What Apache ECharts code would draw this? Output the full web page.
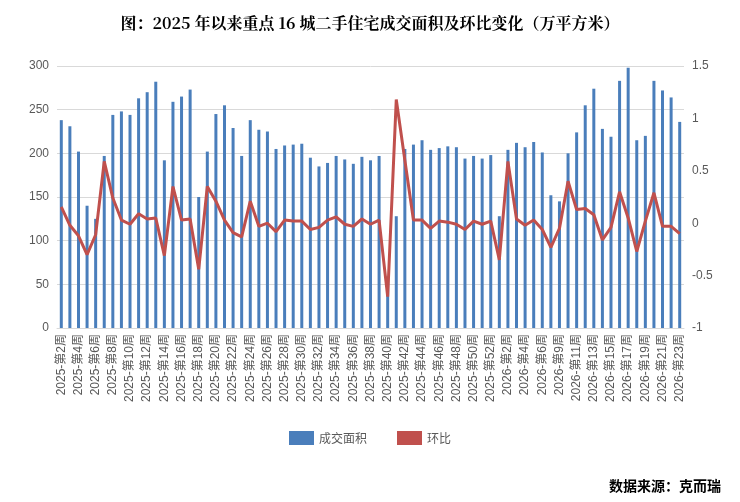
<!DOCTYPE html>
<html><head><meta charset="utf-8">
<script src="https://cdn.jsdelivr.net/npm/echarts@6/dist/echarts.min.js"></script>
<style>html,body{margin:0;padding:0;background:#fff}#c{width:740px;height:502px}</style>
</head><body><div id="c"></div>
<script>
const weeks2025 = [2,3,4,5,6,7,8,9,10,11,12,13,14,15,16,17,18,19,20,21,22,23,24,25,26,27,28,29,30,31,32,33,34,35,36,37,38,39,40,41,42,43,44,45,46,47,48,49,50,51,52];
const weeks2026 = [1,2,3,4,5,6,8,9,10,11,12,13,14,15,16,17,18,19,20,21,22,23];
const categories = weeks2025.map(w => '2025-第' + w + '周').concat(weeks2026.map(w => '2026-第' + w + '周'));
const area = [238,231,202,140,125,197,244,248,244,263,270,282,192,259,265,273,150,202,245,255,229,197,238,227,225,205,209,210,211,195,185,189,197,193,188,196,192,197,59,128,205,210,215,204,206,208,207,194,197,194,198,
  128,204,212,207,213,201,152,145,200,224,255,274,228,219,283,298,215,220,283,272,264,236];
const ratio = [0.155,-0.02,-0.12,-0.30,-0.11,0.59,0.24,0.03,-0.01,0.09,0.04,0.05,-0.31,0.35,0.03,0.04,-0.44,0.35,0.21,0.03,-0.09,-0.13,0.21,-0.03,0.00,-0.08,0.03,0.02,0.02,-0.06,-0.04,0.03,0.06,-0.01,-0.03,0.04,-0.01,0.03,-0.70,1.18,0.60,0.03,0.03,-0.05,0.02,0.01,-0.01,-0.06,0.02,-0.01,0.02,
  -0.35,0.59,0.04,-0.02,0.03,-0.06,-0.23,-0.05,0.40,0.13,0.14,0.08,-0.16,-0.04,0.30,0.05,-0.27,0.02,0.29,-0.03,-0.03,-0.10];
const chart = echarts.init(document.getElementById('c'));
const lab = {color:'#595959', fontSize:12, fontFamily:'Liberation Sans, Noto Sans CJK SC'};
chart.setOption({
  animation:false,
  title:[{text:'图：2025 年以来重点 16 城二手住宅成交面积及环比变化（万平方米）', left:'center', top:10,
    textStyle:{fontSize:16, fontWeight:'bold', color:'#000', fontFamily:'Noto Serif CJK SC, Noto Sans CJK SC'}},
    {text:'数据来源：克而瑞', right:14, top:474, textStyle:{fontSize:14,fontWeight:'bold',color:'#000',fontFamily:'Noto Sans CJK SC'}}],
  legend:{bottom:52, left:'center', itemGap:30, textStyle:{color:'#595959',fontSize:12,fontFamily:'Noto Sans CJK SC'},
    data:[{name:'成交面积',icon:'rect',itemWidth:28,itemHeight:8},{name:'环比',icon:'rect',itemWidth:28,itemHeight:3}]},
  grid:{left:57, right:56, top:66, bottom:174},
  xAxis:{type:'category', data:categories, axisTick:{show:false},
    axisLine:{lineStyle:{color:'#d9d9d9'}},
    axisLabel:Object.assign({rotate:90, interval:1, margin:6, fontSize:11}, lab)},
  yAxis:[{type:'value', min:0, max:300, interval:50, axisLabel:lab, splitLine:{lineStyle:{color:'#d9d9d9'}}},
         {type:'value', min:-1, max:1.5, interval:0.5, axisLabel:lab, splitLine:{show:false}}],
  series:[
    {name:'成交面积', type:'bar', data:area, barWidth:3, itemStyle:{color:'#4a7ebb'}},
    {name:'环比', type:'line', yAxisIndex:1, data:ratio, symbol:'none', lineStyle:{color:'#c0504d', width:3}, itemStyle:{color:'#c0504d'}}
  ]
});
</script></body></html>
